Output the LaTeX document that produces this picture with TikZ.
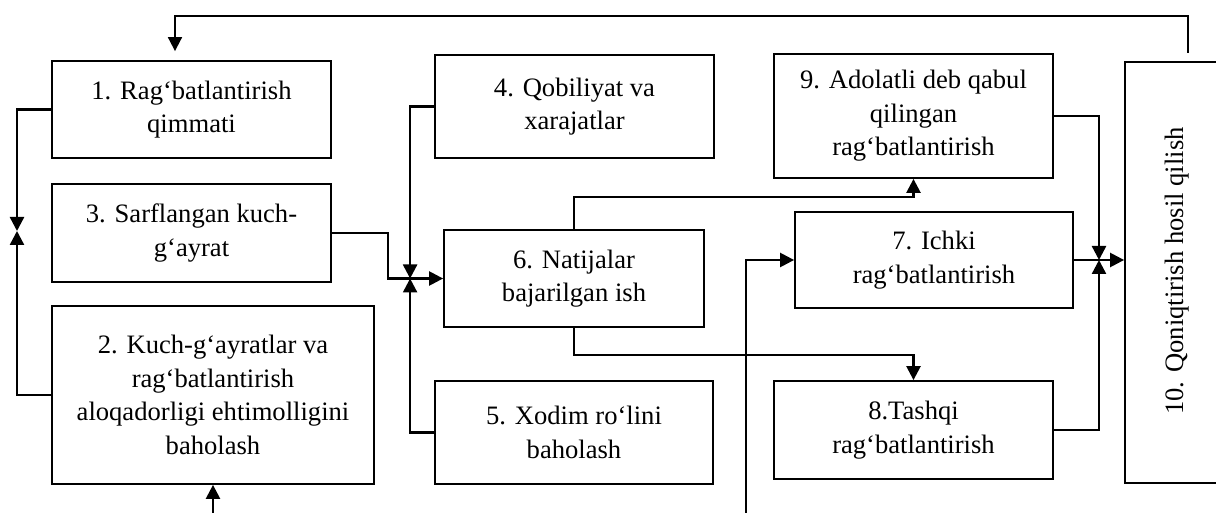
\documentclass[tikz,border=0pt]{standalone}
\usepackage{fontspec}
\setmainfont{Liberation Serif}
\usepackage{tikz}
\usetikzlibrary{arrows.meta,positioning,calc}

\begin{document}
\begin{tikzpicture}[
    x=0.5pt, y=-0.5pt,
    box/.style={rectangle, draw, line width=0.9pt, align=center, inner sep=0pt, font=\fontsize{13.3}{16.7}\selectfont},
    arrow/.style={-{Triangle[length=7pt,width=7pt]}, line width=1.2pt},
    thinarrow/.style={-{Triangle[length=7pt,width=7pt]}, line width=0.9pt}
]
\clip (0,0) rectangle (1216,513);

% Nodes
\node[box, minimum width=139.5pt, minimum height=48.5pt] (b1) at (191.5,109.5) {1. Rag‘batlantirish\\qimmati};
\node[box, minimum width=139.5pt, minimum height=49pt] (b3) at (191.5,233) {3. Sarflangan kuch-\\g‘ayrat};
\node[box, minimum width=161pt, minimum height=89pt] (b2) at (213,395) {2. Kuch-g‘ayratlar va\\rag‘batlantirish\\aloqadorligi ehtimolligini\\baholash};
\node[box, minimum width=139.5pt, minimum height=51.5pt] (b4) at (574.5,106.5) {4. Qobiliyat va\\xarajatlar};
\node[box, minimum width=130pt, minimum height=48.5pt] (b6) at (574,278.5) {6. Natijalar\\bajarilgan ish};
\node[box, minimum width=139pt, minimum height=51.5pt] (b5) at (574,432.5) {5. Xodim ro‘lini\\baholash};
\node[box, minimum width=139.5pt, minimum height=62pt] (b9) at (913.5,116) {9. Adolatli deb qabul\\qilingan\\rag‘batlantirish};
\node[box, minimum width=139pt, minimum height=48pt] (b7) at (934,260) {7. Ichki\\rag‘batlantirish};
\node[box, minimum width=139.5pt, minimum height=49pt] (b8) at (913.5,430) {8.Tashqi\\rag‘batlantirish};
\node[box, minimum width=75pt, minimum height=210.5pt] (b10) at (1200,272.5) {};
\node[font=\fontsize{13.3}{16.7}\selectfont, rotate=90, inner sep=0pt] (t10) at (1177,271) {10. Qoniqtirish hosil qilish};

% Junctions and free ends
\coordinate (j1) at (17,231);
\coordinate (j2) at ([xshift=-16.5pt]b6.west);
\coordinate (j3) at (1099,260);
\coordinate (fb) at (1188,53);
\coordinate (in2) at (213,513);
\coordinate (in7) at (746,513);

% Arrows
\draw[thinarrow, shorten >=4.5pt] (fb) -- ++(0,-37) -| ([xshift=-8.25pt]b1.north);
\draw[arrow] (b1.west) -| (j1);
\draw[arrow] (b2.west) -| (j1);
\draw[arrow] (in2) -- (b2.south);
\draw[arrow] (b3.east) -- ++(56,0) |- (b6.west);
\draw[arrow] (b4.west) -| (j2);
\draw[arrow] (b5.west) -| (j2);
\draw[arrow] (b6.north) -- ++(0,-32) -| (b9.south);
\draw[arrow] (b6.south) -- ++(0,27) -| (b8.north);
\draw[arrow] (in7) |- (b7.west);
\draw[arrow] (b9.east) -| (j3);
\draw[arrow] (b8.east) -| (j3);
\draw[arrow] (b7.east) -- (b7.east -| b10.west);

\end{tikzpicture}
\end{document}
